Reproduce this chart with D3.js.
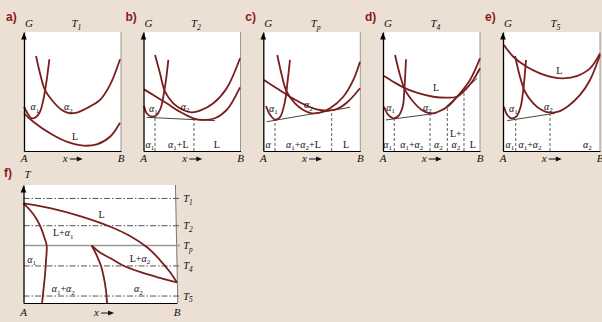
<!DOCTYPE html>
<html><head><meta charset="utf-8">
<script src="https://cdn.jsdelivr.net/npm/d3@7"></script>
<style>html,body{margin:0;padding:0;background:#ECDFD3;} svg{display:block}</style>
</head><body><svg id="c" width="602" height="322"></svg>
<script>
// ================= DATA =================
const panelLetters = ["a)", "b)", "c)", "d)", "e)"];
const panelTemps = ["T_1", "T_2", "T_p", "T_4", "T_5"];

// Gibbs free-energy curves: [composition % (A→B), G % of panel height]
const alpha1A = [[0,37.2],[4.1,31.1],[7.9,27.5],[12.4,28.6],[16.5,33],[19.9,42.9],[23.4,59.7],[26.1,77.1]];
const alpha2A = [[12.4,79.8],[16.5,65.3],[21.6,51.3],[30.2,41.4],[38.9,34.5],[47.4,31.7],[54.3,32.2],[64.6,35.9],[78.4,42.9],[88.7,55.5],[99,77.1]];
const liquidA = [[0,31.7],[9.6,24.6],[26.8,14.9],[44,7.8],[61.2,4.5],[75,5.6],[88.7,12],[99,23.8]];

const alpha1B = [[0.5,37.8],[3.3,31.7],[8.5,28.8],[13.6,30.3],[17.7,35.9],[20.4,45.6],[23.2,59.7],[25.6,76.5]];
const alpha2B = [[11.9,80.7],[17,65.3],[22.2,49.8],[30.7,40.1],[41,34.5],[49.7,32.5],[58.2,33.9],[72,40.1],[85.8,52.7],[99.5,77.9]];
const liquidB = [[0.5,51.8],[10.1,47.1],[23.9,40.1],[37.6,33],[51.3,27.5],[61.6,26.1],[73.7,27.5],[85.8,34.5],[99.5,53.5]];

const alpha1C = [[2.8,37.8],[6.9,30.5],[12.1,26.3],[17.2,28.5],[22.4,42],[25.2,59.7],[27.5,76.5]];
const alpha2C = [[14.4,80.7],[19,63.9],[24.1,49.8],[32.7,40.1],[41.2,34.5],[49.9,31.7],[58.5,32.2],[68.8,35.9],[82.5,45.6],[92.8,59.7],[99.7,75]];
const liquidC = [[0.7,59.7],[13.8,52.7],[27.5,45.6],[41.2,39.5],[55.1,35],[65.4,34],[75.7,35.2],[86,40.5],[99.7,52.7]];

const alpha1D = [[1,37.2],[5.5,30.3],[10.6,27.5],[15.8,29.4],[20.3,37.2],[22,51.3],[23.7,77.1]];
const alpha2D = [[12.4,80.7],[17.5,63.9],[22.7,51.3],[31.2,41.4],[39.9,34.5],[48.5,31.7],[57,33],[67.3,37.8],[79.4,48.5],[89.7,59.7],[100,77.9]];
const liquidD = [[1,63],[10.6,58.2],[20.9,53.5],[34.7,49],[51.9,45.6],[65.7,44.8],[76,45.6],[86.3,52.7],[93.1,59.7],[100,69.5]];

const alpha1E = [[1,37.2],[4.4,30.3],[9,27.5],[14.1,29.4],[18.2,37.2],[20.9,51.3],[23.7,76.5]];
const alpha2E = [[12.4,79.8],[17.5,62.4],[22.7,49.8],[31.2,40.1],[39.9,34.5],[48.5,32.2],[57,33],[67.3,37.8],[79.4,47.1],[89.7,59.7],[100,80.7]];
const liquidE = [[1,89.1],[10.6,79.2],[24.4,70.8],[38.1,65.3],[51.9,61.9],[62.2,61.1],[76,63],[89.7,69.5],[100,82.1]];

// common tangents [[x,G],[x,G]]
const tangentsA = [];
const tangentsB = [[[3.3,28.3],[73.7,25.5]]];
const tangentsC = [[[3.5,24.6],[89.4,36.7]]];
const tangentsD = [[[3.1,26.1],[55.4,31.7]], [[64.9,37.2],[97.2,61.1]]];
const tangentsE = [[[4.4,25.5],[53.6,31.7]]];

// tangent-point compositions (dashed dividers)
const dividersA = [];
const dividersB = [11.9, 52];
const dividersC = [12.1, 70.5];
const dividersD = [11.6, 48.5, 66.3, 83.5];
const dividersE = [13.1, 48.5];

// phase-field labels under the curves [text, composition %]
const regionsA = [];
const regionsB = [["α_1", 6.7], ["α_1+L", 35.9], ["L", 75.5]];
const regionsC = [["α", 5.1], ["α_1+α_2+L", 41.3], ["L", 85.3]];
const regionsD = [["α_1", 4.8], ["α_1+α_2", 29.6], ["α_2", 57], ["L+|α_2", 75], ["L", 92.5]];
const regionsE = [["α_1", 7.2], ["α_1+α_2", 27.8], ["α_2", 86.9]];

// curve name labels [text, x %, G %]
const curveLabelsA = [["α_1", 11.3, 37.2], ["α_2", 45.7, 37.2], ["L", 52.6, 12]];
const curveLabelsB = [["α_1", 10.1, 35.9], ["α_2", 42.8, 37.8]];
const curveLabelsC = [["α_1", 10.3, 35.9], ["α_2", 46.4, 38.7]];
const curveLabelsD = [["α_1", 7.9, 36.7], ["α_2", 45.7, 36.7], ["L", 54.6, 53.5]];
const curveLabelsE = [["α_1", 10.6, 35.9], ["α_2", 46.7, 37.8], ["L", 58, 67.5]];

// Panel f: phase diagram [composition %, T %]
const fLiquidus = [[0,84.5],[17.3,80.5],[36.8,73.7],[55,65.5],[69.4,56.8],[81.1,46.6],[88.9,36.4],[95.4,26.3],[100,17.4]];
const fAlpha1 = [[0,84.5],[4.2,78.8],[8.1,72],[11.4,63.6],[13.7,55.1],[15.1,48.7],[14.7,36.4],[14,23.7],[13,11],[12.1,0]];
const fAlpha2Solvus = [[44.4,48.7],[47.9,39.8],[50.5,31.4],[52.4,21.2],[53.7,11],[54.4,0]];
const fAlpha2Solidus = [[44.4,48.7],[49.8,42.8],[56.4,38.1],[64.2,32.2],[75.9,26.3],[88.9,21.2],[100,17.4]];
const fTempNames = ["T_1", "T_2", "T_p", "T_4", "T_5"];
const fTempLevels = [88.6, 65.5, 48.7, 31.4, 5.9];
const fRegions = [["L", 50.9, 74.6], ["L+α_1", 25.9, 59.6], ["α_1", 5.3, 37], ["L+α_2", 75.9, 37.9], ["α_1+α_2", 25.9, 12], ["α_2", 74.8, 12]];

// ================= DRAWING =================
const panels = [
  {a1: alpha1A, a2: alpha2A, l: liquidA, tg: tangentsA, dv: dividersA, rg: regionsA, cl: curveLabelsA},
  {a1: alpha1B, a2: alpha2B, l: liquidB, tg: tangentsB, dv: dividersB, rg: regionsB, cl: curveLabelsB},
  {a1: alpha1C, a2: alpha2C, l: liquidC, tg: tangentsC, dv: dividersC, rg: regionsC, cl: curveLabelsC},
  {a1: alpha1D, a2: alpha2D, l: liquidD, tg: tangentsD, dv: dividersD, rg: regionsD, cl: curveLabelsD},
  {a1: alpha1E, a2: alpha2E, l: liquidE, tg: tangentsE, dv: dividersE, rg: regionsE, cl: curveLabelsE}
];

const svg = d3.select("#c");
svg.append("rect").attr("width", 602).attr("height", 322).attr("fill", "#ECDFD3");

const SERIF = "'Liberation Serif','DejaVu Serif',serif";
const SANS = "'Liberation Sans',Arial,sans-serif";
const CURVE = "#7A1E1E";
const LETTER = "#8A1C16";

function rich(sel, str, size) {
  let shift = 0;
  const re = /(_[0-9a-z])|(α)|([^_α]+)/g;
  let m;
  while ((m = re.exec(str))) {
    if (m[1]) {
      sel.append("tspan").attr("dy", 2.6 - shift).attr("font-size", size * 0.7).text(m[1][1]);
      shift = 2.6;
    } else {
      const t = sel.append("tspan").attr("dy", -shift).text(m[2] || m[3]);
      if (m[2]) t.attr("font-style", "italic");
      shift = 0;
    }
  }
}
function label(x, y, str, size, anchor, italic) {
  const t = svg.append("text").attr("x", x).attr("y", y)
    .attr("font-family", SERIF).attr("font-size", size).attr("fill", "#111")
    .attr("text-anchor", anchor || "middle");
  if (italic) t.attr("font-style", "italic");
  rich(t, str, size);
  return t;
}
function xArrow(x0, y) {
  svg.append("text").attr("x", x0).attr("y", y).attr("font-family", SERIF).attr("font-style", "italic")
    .attr("font-size", 11).attr("fill", "#111").text("x");
  svg.append("line").attr("x1", x0 + 7).attr("x2", x0 + 16).attr("y1", y - 3).attr("y2", y - 3)
    .attr("stroke", "#111").attr("stroke-width", 1);
  svg.append("path").attr("d", `M${x0+20},${y-3} L${x0+14},${y-5.5} L${x0+14},${y-0.5} Z`).attr("fill", "#111");
}
function upArrow(x, y) {
  svg.append("path").attr("d", `M${x},${y} L${x-2.8},${y+7} L${x+2.8},${y+7} Z`).attr("fill", "#000");
}

const panelLeft = [24, 143.5, 263.3, 383, 503];
const PW = 97, PT = 32, PB = 151;
const gY = d3.scaleLinear().domain([0, 100]).range([PB, PT]);

panels.forEach((p, i) => {
  const x = d3.scaleLinear().domain([0, 100]).range([panelLeft[i], panelLeft[i] + PW]);
  const line = d3.line().x(d => x(d[0])).y(d => gY(d[1])).curve(d3.curveCatmullRom.alpha(0.5));
  const g = svg.append("g");
  g.append("rect").attr("x", x(0)).attr("y", gY(100)).attr("width", x(100) - x(0)).attr("height", gY(0) - gY(100)).attr("fill", "#fff");
  g.append("line").attr("x1", x(100)).attr("x2", x(100)).attr("y1", gY(100)).attr("y2", gY(0)).attr("stroke", "#999").attr("stroke-width", 1);

  // dividers
  p.dv.forEach(v => {
    let top = 0;
    p.tg.forEach(t => {
      if (v >= t[0][0] - 3 && v <= t[1][0] + 3) {
        top = t[0][1] + (t[1][1] - t[0][1]) * (v - t[0][0]) / (t[1][0] - t[0][0]);
      }
    });
    g.append("line").attr("x1", x(v)).attr("x2", x(v)).attr("y1", gY(0)).attr("y2", gY(top))
      .attr("stroke", "#333").attr("stroke-width", 0.8).attr("stroke-dasharray", "3,2");
  });
  // tangents
  p.tg.forEach(t => {
    g.append("line").attr("x1", x(t[0][0])).attr("y1", gY(t[0][1])).attr("x2", x(t[1][0])).attr("y2", gY(t[1][1]))
      .attr("stroke", "#444").attr("stroke-width", 1);
  });
  // curves
  [p.a1, p.a2, p.l].forEach(c => {
    g.append("path").attr("d", line(c)).attr("fill", "none").attr("stroke", CURVE).attr("stroke-width", 1.8);
  });
  // axes
  g.append("g").attr("transform", `translate(0,${PB})`).call(d3.axisBottom(x).tickValues([]).tickSizeOuter(0))
    .select(".domain").attr("stroke", "#000").attr("stroke-width", 1);
  g.append("g").attr("transform", `translate(${x(0)},0)`).call(d3.axisLeft(gY).tickValues([]).tickSizeOuter(0))
    .select(".domain").attr("stroke", "#000").attr("stroke-width", 1.3);
  upArrow(x(0), gY(100) + 0.5);

  // labels
  p.cl.forEach(c => label(x(c[1]), gY(c[2]) + 3.5, c[0], 10, "middle", false));
  p.rg.forEach(r => {
    const parts = r[0].split("|");
    parts.forEach((s, k) => label(x(r[1]), PB - 3.5 - (parts.length - 1 - k) * 11, s, 10, "middle", false));
  });
  svg.append("text").attr("x", x(0) - 18).attr("y", 20.5).attr("font-family", SANS).attr("font-weight", "bold")
    .attr("font-size", 12).attr("fill", LETTER).text(panelLetters[i]);
  label(x(0) + 1, 27, "G", 11, "start", true);
  label(x(54), 27, panelTemps[i], 11, "middle", true);
  label(x(0), 162, "A", 11, "middle", true);
  label(x(100), 162, "B", 11, "middle", true);
  xArrow(x(40), 162);
});

// ---------- panel f ----------
const fx = d3.scaleLinear().domain([0, 100]).range([23.5, 177]);
const fy = d3.scaleLinear().domain([0, 100]).range([303, 185]);
const fline = d3.line().x(d => fx(d[0])).y(d => fy(d[1])).curve(d3.curveCatmullRom.alpha(0.5));
const fg = svg.append("g");
fg.append("path").attr("d", `M${fx(0)},${fy(100)} L${fx(99)},${fy(100)} L${fx(100.5)},${fy(0)} L${fx(0)},${fy(0)} Z`).attr("fill", "#fff");
fg.append("line").attr("x1", fx(99)).attr("y1", fy(100)).attr("x2", fx(100.5)).attr("y2", fy(0)).attr("stroke", "#777").attr("stroke-width", 1);

fTempLevels.forEach((tv, k) => {
  const isP = fTempNames[k] === "T_p";
  fg.append("line").attr("x1", fx(0)).attr("x2", fx(102)).attr("y1", fy(tv)).attr("y2", fy(tv))
    .attr("stroke", isP ? "#999" : "#555").attr("stroke-width", isP ? 1.6 : 1)
    .attr("stroke-dasharray", isP ? null : "6,2,1.5,2");
  label(fx(104), fy(tv) + 3.5, fTempNames[k], 10.5, "start", true);
});
[fLiquidus, fAlpha1, fAlpha2Solvus, fAlpha2Solidus].forEach(c => {
  fg.append("path").attr("d", fline(c)).attr("fill", "none").attr("stroke", CURVE).attr("stroke-width", 1.8);
});
fg.append("g").attr("transform", `translate(0,${fy(0)})`).call(d3.axisBottom(fx).tickValues([]).tickSizeOuter(0))
  .select(".domain").attr("stroke", "#000").attr("stroke-width", 1);
fg.append("g").attr("transform", `translate(${fx(0)},0)`).call(d3.axisLeft(fy).tickValues([]).tickSizeOuter(0))
  .select(".domain").attr("stroke", "#000").attr("stroke-width", 1.3);
upArrow(fx(0), fy(100) + 0.5);
fRegions.forEach(r => label(fx(r[1]), fy(r[2]) + 3.5, r[0], 10, "middle", false));
svg.append("text").attr("x", 4).attr("y", 177).attr("font-family", SANS).attr("font-weight", "bold")
  .attr("font-size", 12).attr("fill", LETTER).text("f)");
label(fx(0) + 1, 178, "T", 11, "start", true);
label(fx(0), 316, "A", 11, "middle", true);
label(fx(100), 316, "B", 11, "middle", true);
xArrow(fx(46), 316);
</script></body></html>
